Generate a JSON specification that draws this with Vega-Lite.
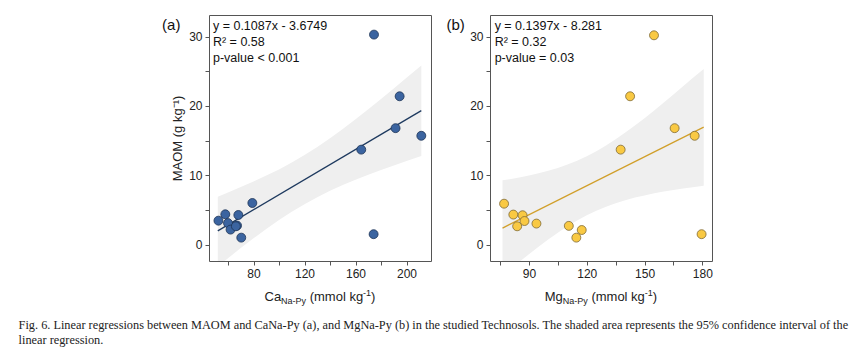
{
  "$schema": "https://vega.github.io/schema/vega-lite/v6.json",
  "padding": {"left": 18, "top": 14, "right": 5, "bottom": 2},
  "spacing": 14,
  "config": {
    "font": "Liberation Sans",
    "view": {"stroke": "#555", "strokeWidth": 1},
    "axis": {"domain": false, "grid": false, "tickSize": 4, "tickColor": "#555", "tickWidth": 1, "labelFont": "Liberation Sans", "labelFontSize": 12, "labelColor": "#222", "labelPadding": 3, "titleFont": "Liberation Sans", "titleFontSize": 13, "titleFontWeight": "normal", "titleColor": "#222"}
  },
  "title": {
    "text": ["Fig. 6.  Linear regressions between MAOM and CaNa-Py (a), and MgNa-Py (b) in the studied Technosols. The shaded area represents the 95% confidence interval of the", "linear regression."],
    "orient": "bottom", "anchor": "start", "font": "Liberation Serif", "fontSize": 12.3, "fontWeight": "normal", "color": "#222", "lineHeight": 15.5, "dx": -143, "offset": 12
  },
  "datasets": {
    "caPts": [
      {"ca": 52.5, "maom": 3.45}, {"ca": 57.9, "maom": 4.37}, {"ca": 60.0, "maom": 3.1}, {"ca": 62.0, "maom": 2.16},
      {"ca": 68.1, "maom": 4.27}, {"ca": 67.1, "maom": 2.74}, {"ca": 66.2, "maom": 2.64}, {"ca": 70.4, "maom": 1.0},
      {"ca": 79.1, "maom": 6.0}, {"ca": 164.5, "maom": 13.7}, {"ca": 174.2, "maom": 1.5}, {"ca": 174.5, "maom": 30.3},
      {"ca": 191.4, "maom": 16.8}, {"ca": 194.6, "maom": 21.4}, {"ca": 211.6, "maom": 15.7}
    ],
    "caFit": [{"ca": 52.0, "maom": 1.98}, {"ca": 211.6, "maom": 19.33}],
    "caBand": [
      {"ca": 52.0, "lo": -3.17, "hi": 6.9}, {"ca": 60, "lo": -1.97, "hi": 7.5}, {"ca": 70, "lo": -0.51, "hi": 8.3},
      {"ca": 80, "lo": 0.9, "hi": 9.1}, {"ca": 90, "lo": 2.26, "hi": 9.96}, {"ca": 100, "lo": 3.54, "hi": 10.85},
      {"ca": 110, "lo": 4.73, "hi": 11.83}, {"ca": 120, "lo": 5.83, "hi": 12.91}, {"ca": 130, "lo": 6.84, "hi": 14.08},
      {"ca": 140, "lo": 7.75, "hi": 15.33}, {"ca": 150, "lo": 8.59, "hi": 16.67}, {"ca": 160, "lo": 9.37, "hi": 18.07},
      {"ca": 170, "lo": 10.08, "hi": 19.52}, {"ca": 180, "lo": 10.77, "hi": 21.01}, {"ca": 190, "lo": 11.42, "hi": 22.54},
      {"ca": 200, "lo": 12.05, "hi": 24.08}, {"ca": 211.6, "lo": 12.8, "hi": 25.85}
    ],
    "mgPts": [
      {"mg": 77.1, "maom": 5.9}, {"mg": 81.9, "maom": 4.33}, {"mg": 86.7, "maom": 4.23}, {"mg": 87.7, "maom": 3.4},
      {"mg": 83.9, "maom": 2.64}, {"mg": 93.9, "maom": 3.03}, {"mg": 110.7, "maom": 2.7}, {"mg": 117.4, "maom": 2.1},
      {"mg": 114.6, "maom": 1.0}, {"mg": 137.6, "maom": 13.7}, {"mg": 142.5, "maom": 21.4}, {"mg": 154.9, "maom": 30.2},
      {"mg": 165.6, "maom": 16.8}, {"mg": 176.0, "maom": 15.7}, {"mg": 179.6, "maom": 1.5}
    ],
    "mgFit": [{"mg": 76.3, "maom": 2.38}, {"mg": 180.7, "maom": 16.96}],
    "mgBand": [
      {"mg": 76.3, "lo": -4.51, "hi": 9.27}, {"mg": 80, "lo": -3.65, "hi": 9.44}, {"mg": 85, "lo": -2.5, "hi": 9.69},
      {"mg": 90, "lo": -1.38, "hi": 9.97}, {"mg": 95, "lo": -0.3, "hi": 10.28}, {"mg": 100, "lo": 0.73, "hi": 10.65},
      {"mg": 105, "lo": 1.71, "hi": 11.06}, {"mg": 110, "lo": 2.63, "hi": 11.55}, {"mg": 115, "lo": 3.46, "hi": 12.11},
      {"mg": 120, "lo": 4.22, "hi": 12.75}, {"mg": 125, "lo": 4.88, "hi": 13.48}, {"mg": 130, "lo": 5.46, "hi": 14.3},
      {"mg": 135, "lo": 5.97, "hi": 15.19}, {"mg": 140, "lo": 6.4, "hi": 16.16}, {"mg": 145, "lo": 6.78, "hi": 17.18},
      {"mg": 150, "lo": 7.1, "hi": 18.24}, {"mg": 155, "lo": 7.39, "hi": 19.35}, {"mg": 160, "lo": 7.65, "hi": 20.49},
      {"mg": 165, "lo": 7.88, "hi": 21.66}, {"mg": 170, "lo": 8.1, "hi": 22.84}, {"mg": 175, "lo": 8.29, "hi": 24.05},
      {"mg": 180.7, "lo": 8.49, "hi": 25.35}
    ],
    "one": [{}]
  },
  "hconcat": [
    {
      "width": 222, "height": 246,
      "encoding": {
        "x": {"type": "quantitative", "scale": {"domain": [45.1, 219.2], "nice": false, "zero": false},
              "axis": {"values": [60, 80, 100, 120, 140, 160, 180, 200], "labelExpr": "datum.value % 40 == 0 ? datum.label : ''", "title": null}},
        "y": {"type": "quantitative", "scale": {"domain": [-2.37, 33.13], "nice": false, "zero": false},
              "axis": {"values": [0, 5, 10, 15, 20, 25, 30], "labelExpr": "datum.value % 10 == 0 ? datum.label : ''", "title": "MAOM (g kg⁻¹)", "titlePadding": 4, "titleFontWeight": "normal"}}
      },
      "layer": [
        {
          "data": {"name": "caBand"},
          "mark": {"type": "area", "clip": true, "color": "#efefef", "opacity": 1},
          "encoding": {"x": {"field": "ca"}, "y": {"field": "lo"}, "y2": {"field": "hi"}}
        },
        {
          "data": {"name": "caFit"},
          "mark": {"type": "line", "clip": true, "color": "#1e3a5f", "strokeWidth": 1.3},
          "encoding": {"x": {"field": "ca"}, "y": {"field": "maom"}}
        },
        {
          "data": {"name": "caPts"},
          "mark": {"type": "point", "filled": true, "size": 80, "fill": "#3b64a0", "stroke": "#1d3456", "strokeWidth": 0.8, "opacity": 1},
          "encoding": {"x": {"field": "ca"}, "y": {"field": "maom"}}
        },
        {
          "data": {"name": "one"},
          "mark": {"type": "text", "align": "left", "baseline": "top", "fontSize": 12.5, "lineHeight": 16.3, "color": "#111"},
          "encoding": {"x": {"datum": 48.2}, "y": {"datum": 32.43}, "text": {"value": ["y = 0.1087x - 3.6749", "R² = 0.58", "p-value < 0.001"]}}
        },
        {
          "data": {"name": "one"},
          "mark": {"type": "text", "align": "center", "baseline": "middle", "fontSize": 15, "color": "#111"},
          "encoding": {"x": {"datum": 15.5}, "y": {"datum": 31.65}, "text": {"value": "(a)"}}
        },
        {
          "data": {"name": "one"},
          "mark": {"type": "text", "align": "left", "baseline": "middle", "fontSize": 13, "color": "#222", "dx": -55.5},
          "encoding": {"x": {"datum": 132.15}, "y": {"datum": -7.6}, "text": {"value": "Ca"}}
        },
        {
          "data": {"name": "one"},
          "mark": {"type": "text", "align": "left", "baseline": "middle", "fontSize": 9, "color": "#222", "dx": -38.9, "dy": 4},
          "encoding": {"x": {"datum": 132.15}, "y": {"datum": -7.6}, "text": {"value": "Na-Py"}}
        },
        {
          "data": {"name": "one"},
          "mark": {"type": "text", "align": "left", "baseline": "middle", "fontSize": 13, "color": "#222", "dx": -10.3},
          "encoding": {"x": {"datum": 132.15}, "y": {"datum": -7.6}, "text": {"value": "(mmol kg"}}
        },
        {
          "data": {"name": "one"},
          "mark": {"type": "text", "align": "left", "baseline": "middle", "fontSize": 9, "color": "#222", "dx": 43.1, "dy": -4.5},
          "encoding": {"x": {"datum": 132.15}, "y": {"datum": -7.6}, "text": {"value": "-1"}}
        },
        {
          "data": {"name": "one"},
          "mark": {"type": "text", "align": "left", "baseline": "middle", "fontSize": 13, "color": "#222", "dx": 51.1},
          "encoding": {"x": {"datum": 132.15}, "y": {"datum": -7.6}, "text": {"value": ")"}}
        }
      ]
    },
    {
      "width": 222, "height": 246,
      "encoding": {
        "x": {"type": "quantitative", "scale": {"domain": [69.8, 185], "nice": false, "zero": false},
              "axis": {"values": [75, 90, 105, 120, 135, 150, 165, 180], "labelExpr": "datum.value % 30 == 0 ? datum.label : ''", "title": null}},
        "y": {"type": "quantitative", "scale": {"domain": [-2.37, 33.13], "nice": false, "zero": false},
              "axis": {"values": [0, 5, 10, 15, 20, 25, 30], "labelExpr": "datum.value % 10 == 0 ? datum.label : ''", "title": null}}
      },
      "layer": [
        {
          "data": {"name": "mgBand"},
          "mark": {"type": "area", "clip": true, "color": "#efefef", "opacity": 1},
          "encoding": {"x": {"field": "mg"}, "y": {"field": "lo"}, "y2": {"field": "hi"}}
        },
        {
          "data": {"name": "mgFit"},
          "mark": {"type": "line", "clip": true, "color": "#d19f2a", "strokeWidth": 1.3},
          "encoding": {"x": {"field": "mg"}, "y": {"field": "maom"}}
        },
        {
          "data": {"name": "mgPts"},
          "mark": {"type": "point", "filled": true, "size": 80, "fill": "#f9c943", "stroke": "#7f6a35", "strokeWidth": 0.8, "opacity": 1},
          "encoding": {"x": {"field": "mg"}, "y": {"field": "maom"}}
        },
        {
          "data": {"name": "one"},
          "mark": {"type": "text", "align": "left", "baseline": "top", "fontSize": 12.5, "lineHeight": 16.3, "color": "#111"},
          "encoding": {"x": {"datum": 72.2}, "y": {"datum": 32.43}, "text": {"value": ["y = 0.1397x - 8.281", "R² = 0.32", "p-value = 0.03"]}}
        },
        {
          "data": {"name": "one"},
          "mark": {"type": "text", "align": "center", "baseline": "middle", "fontSize": 15, "color": "#111"},
          "encoding": {"x": {"datum": 52.0}, "y": {"datum": 31.65}, "text": {"value": "(b)"}}
        },
        {
          "data": {"name": "one"},
          "mark": {"type": "text", "align": "left", "baseline": "middle", "fontSize": 13, "color": "#222", "dx": -56.3},
          "encoding": {"x": {"datum": 127.4}, "y": {"datum": -7.6}, "text": {"value": "Mg"}}
        },
        {
          "data": {"name": "one"},
          "mark": {"type": "text", "align": "left", "baseline": "middle", "fontSize": 9, "color": "#222", "dx": -38.2, "dy": 4},
          "encoding": {"x": {"datum": 127.4}, "y": {"datum": -7.6}, "text": {"value": "Na-Py"}}
        },
        {
          "data": {"name": "one"},
          "mark": {"type": "text", "align": "left", "baseline": "middle", "fontSize": 13, "color": "#222", "dx": -9.6},
          "encoding": {"x": {"datum": 127.4}, "y": {"datum": -7.6}, "text": {"value": "(mmol kg"}}
        },
        {
          "data": {"name": "one"},
          "mark": {"type": "text", "align": "left", "baseline": "middle", "fontSize": 9, "color": "#222", "dx": 43.8, "dy": -4.5},
          "encoding": {"x": {"datum": 127.4}, "y": {"datum": -7.6}, "text": {"value": "-1"}}
        },
        {
          "data": {"name": "one"},
          "mark": {"type": "text", "align": "left", "baseline": "middle", "fontSize": 13, "color": "#222", "dx": 51.8},
          "encoding": {"x": {"datum": 127.4}, "y": {"datum": -7.6}, "text": {"value": ")"}}
        }
      ]
    }
  ]
}
